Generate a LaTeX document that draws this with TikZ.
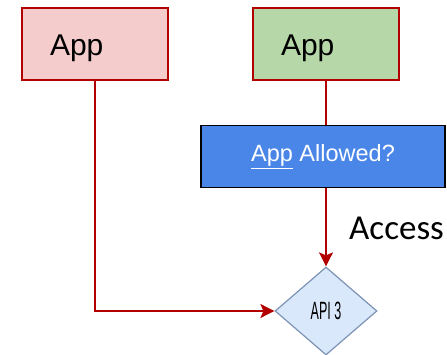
\documentclass[tikz,border=0pt]{standalone}
\usepackage{fontspec}
\usepackage{graphicx}
\setmainfont{Liberation Sans}
\newfontfamily\calibrifont{Carlito}
\usetikzlibrary{arrows.meta,shapes.geometric}

\definecolor{appred}{HTML}{B20000}
\definecolor{pinkfill}{HTML}{F4CCCC}
\definecolor{greenfill}{HTML}{B6D7A8}
\definecolor{bluefill}{HTML}{4A86E8}
\definecolor{apifill}{HTML}{DAE8FC}
\definecolor{apiedge}{HTML}{7C93B5}

\begin{document}
\begin{tikzpicture}[x=1pt, y=-1pt,
    appbox/.style={rectangle, draw=appred, line width=2pt, minimum width=146pt, minimum height=72pt,
      inner xsep=28pt, text width=90pt, text height=24pt, text depth=0pt, align=left,
      font=\fontsize{30}{30}\selectfont},
    edge/.style={draw=appred, line width=1.6pt, -{Stealth[length=14pt,width=14pt,inset=3pt]}}]
    \useasboundingbox (0,0) rectangle (447,355);

    % ノード
    \node[appbox, fill=pinkfill] (A) at (95,44) {App};
    \node[appbox, fill=greenfill] (B) at (326,44) {App};
    \node[diamond, draw=apiedge, line width=1.2pt, fill=apifill, minimum width=102pt, minimum height=88pt,
      inner sep=0pt, font=\fontsize{25}{25}\selectfont] (C) at (326,311) {\scalebox{0.5}[1]{API 3}};
    \node[anchor=base west, inner sep=0pt, font=\calibrifont\fontsize{35}{35}\selectfont] (access) at (349,240) {Access};

    % エッジ
    \draw[edge] (A.south) |- (C.west);
    \draw[edge] (B.south) -- (C.north);

    % エッジの上に重ねる
    \node[rectangle, draw=black, line width=1.2pt, fill=bluefill, minimum width=244pt, minimum height=62pt,
      text=white, font=\fontsize{23.5}{23.5}\selectfont] (check) at (323,156.5) {\underline{App} Allowed?};
\end{tikzpicture}
\end{document}
